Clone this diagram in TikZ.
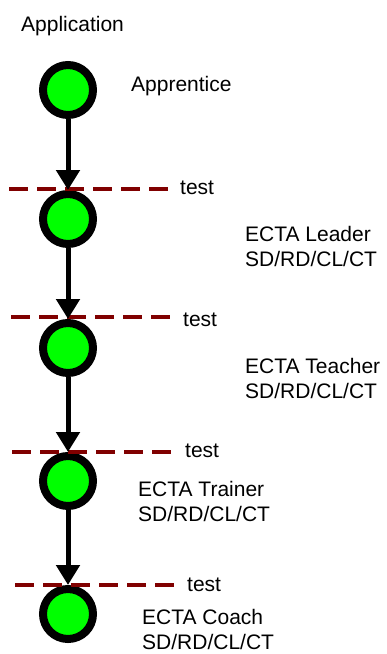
\documentclass[tikz,border=0pt]{standalone}
\usepackage{fontspec}
\setmainfont{Liberation Sans}
\usetikzlibrary{arrows.meta}
\definecolor{stagegreen}{HTML}{00FF00}
\definecolor{gatered}{HTML}{800000}
\tikzset{
  stage/.style={circle,draw=black,fill=stagegreen,line width=8pt,
    minimum size=50pt,inner sep=0pt},
  promote/.style={line width=5pt,-{Triangle[width=23pt,length=20pt]}},
  gate/.style={gatered,line width=4pt,dash pattern=on 19pt off 9pt},
  rank/.style={anchor=base west,inner sep=0pt,align=left,
    font=\fontsize{21}{24.6}\selectfont}
}
\begin{document}
\begin{tikzpicture}[x=1pt,y=-1pt]
    \useasboundingbox (0,0) rectangle (386,654);
    \node[rank] (app) at (21,31) {Application};
    %% the five stages, top to bottom
    \node[stage] (s1) at (68,90) {};
    \node[stage] (s2) at (68,219) {};
    \node[stage] (s3) at (68,348) {};
    \node[stage] (s4) at (68,481) {};
    \node[stage] (s5) at (68,614) {};
    %% names (base = last line)
    \node[rank] (n1) at (131,91) {Apprentice};
    \node[rank] (n2) at (245,266) {ECTA Leader\\SD/RD/CL/CT};
    \node[rank] (n3) at (245,398) {ECTA Teacher\\SD/RD/CL/CT};
    \node[rank] (n4) at (138,521) {ECTA Trainer\\SD/RD/CL/CT};
    \node[rank] (n5) at (142,649) {ECTA Coach\\SD/RD/CL/CT};
    %% test gates between stages
    \draw[gate] (9,189) -- (170,189);
    \node[rank] (t1) at (180,194) {test};
    \draw[gate] (11,317) -- (172,317);
    \node[rank] (t2) at (183,326) {test};
    \draw[gate] (12,452) -- (172,452);
    \node[rank] (t3) at (185,457) {test};
    \draw[gate] (15,585) -- (175,585);
    \node[rank] (t4) at (187,591) {test};
    %% promotions
    \draw[promote] (s1) -- (s2);
    \draw[promote] (s2) -- (s3);
    \draw[promote] (s3) -- (s4);
    \draw[promote] (s4) -- (s5);
\end{tikzpicture}
\end{document}
